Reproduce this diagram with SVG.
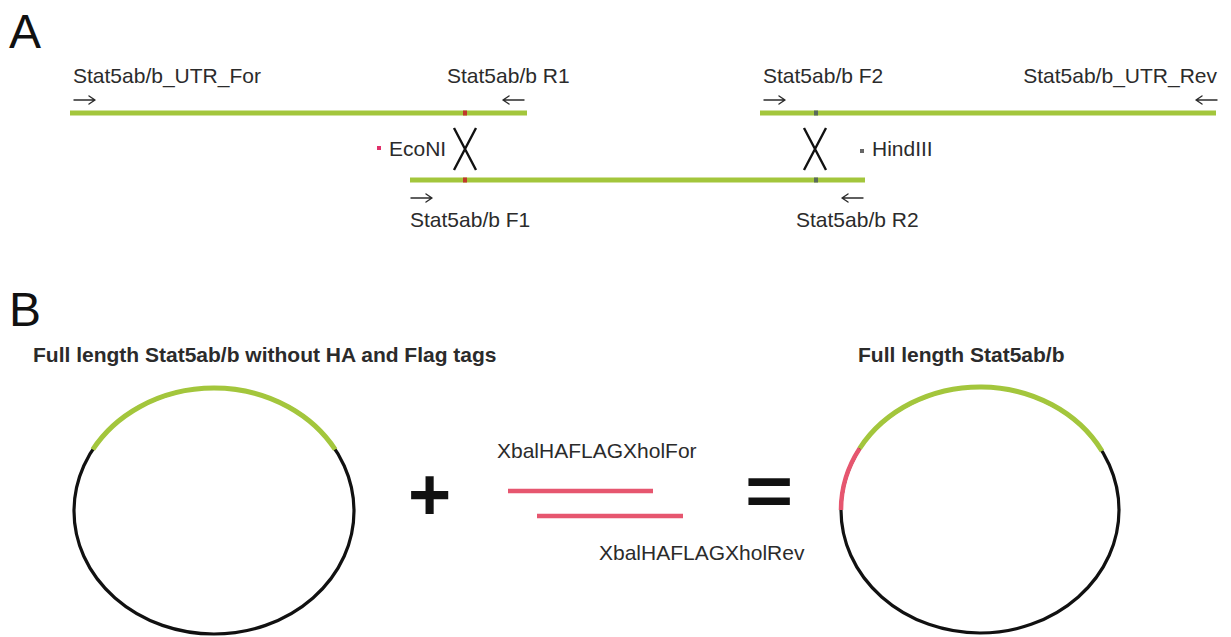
<svg xmlns="http://www.w3.org/2000/svg" width="1231" height="637" viewBox="0 0 1231 637">
<style>
.lbl{font-family:"Liberation Sans",Arial,sans-serif;font-size:21px;fill:#2b2b2b}
.big{font-family:"Liberation Sans",Arial,sans-serif;font-size:48px;fill:#111}
.bold{font-family:"Liberation Sans",Arial,sans-serif;font-size:21px;font-weight:bold;fill:#2b2b2b}
.sym{font-family:"Liberation Sans",Arial,sans-serif;font-weight:bold;fill:#111}
.arr{stroke:#2b2b2b;stroke-width:1.4;fill:none;stroke-linecap:round;stroke-linejoin:round}
.dna{stroke:#a3c63c;stroke-width:5;fill:none}
.pink{stroke:#e6566f;stroke-width:4.5;fill:none}
.bb{stroke:#111;stroke-width:3.2;fill:none}
.cross{stroke:#111;stroke-width:2.4;fill:none}
</style>
<rect width="1231" height="637" fill="#fff"/>
<g id="panelA">
<text class="big" x="9" y="48">A</text>
<g id="frag1">
<line class="dna" x1="70" y1="113" x2="527" y2="113"/>
<rect x="463" y="110.5" width="4" height="5" fill="#c0392b"/>
<text class="lbl" x="73" y="83">Stat5ab/b_UTR_For</text>
<path class="arr" d="M74 100 H95 M89 96 L95 100 L89 104"/>
<text class="lbl" x="447" y="83">Stat5ab/b R1</text>
<path class="arr" d="M503 100 H524 M509 96 L503 100 L509 104"/>
</g>
<g id="frag2">
<line class="dna" x1="760" y1="113" x2="1216" y2="113"/>
<rect x="814" y="110.5" width="4" height="5" fill="#5a6a5a"/>
<text class="lbl" x="763" y="83">Stat5ab/b F2</text>
<path class="arr" d="M764 100 H785 M779 96 L785 100 L779 104"/>
<text class="lbl" x="1217" y="83" text-anchor="end">Stat5ab/b_UTR_Rev</text>
<path class="arr" d="M1196 100 H1217 M1202 96 L1196 100 L1202 104"/>
</g>
<g id="frag3">
<line class="dna" x1="410" y1="180" x2="865" y2="180"/>
<rect x="463" y="177.5" width="4" height="5" fill="#c0392b"/>
<rect x="814" y="177.5" width="4" height="5" fill="#5a6a5a"/>
<path class="arr" d="M411 198 H432 M426 194 L432 198 L426 202"/>
<text class="lbl" x="410" y="227">Stat5ab/b F1</text>
<path class="arr" d="M842 198 H863 M848 194 L842 198 L848 202"/>
<text class="lbl" x="796" y="227">Stat5ab/b R2</text>
</g>
<g id="econi">
<rect x="377" y="146" width="4" height="4" fill="#e0306a"/>
<text class="lbl" x="389" y="156">EcoNI</text>
<path class="cross" d="M454 128 L476 170 M476 128 L454 170"/>
</g>
<g id="hindiii">
<rect x="860" y="149" width="4" height="4" fill="#666"/>
<text class="lbl" x="872" y="156">HindIII</text>
<path class="cross" d="M804 128 L826 170 M826 128 L804 170"/>
</g>
</g>
<g id="panelB">
<text class="big" x="9" y="326">B</text>
<g id="plasmid1">
<text class="bold" x="33" y="362">Full length Stat5ab/b without HA and Flag tags</text>
<ellipse class="bb" cx="214" cy="511" rx="140" ry="123"/>
<path class="dna" d="M92.8 449.5 A140 123 0 0 1 335.2 449.5"/>
</g>
<g id="plus"><text class="sym" x="408" y="520" font-size="74">+</text></g>
<g id="primers">
<text class="lbl" x="497" y="458">XbalHAFLAGXholFor</text>
<line class="pink" x1="508" y1="491" x2="653" y2="491"/>
<line class="pink" x1="537" y1="516" x2="683" y2="516"/>
<text class="lbl" x="599" y="560">XbalHAFLAGXholRev</text>
</g>
<g id="equals"><text class="sym" x="0" y="0" font-size="70" transform="translate(745 515) scale(1.18 1)">=</text></g>
<g id="plasmid2">
<text class="bold" x="858" y="362">Full length Stat5ab/b</text>
<ellipse class="bb" cx="980" cy="510" rx="139" ry="123"/>
<path class="dna" d="M859.6 448.5 A139 123 0 0 1 1102 451"/>
<path class="pink" d="M841 510 A139 123 0 0 1 859.6 448.5"/>
</g>
</g>
</svg>
